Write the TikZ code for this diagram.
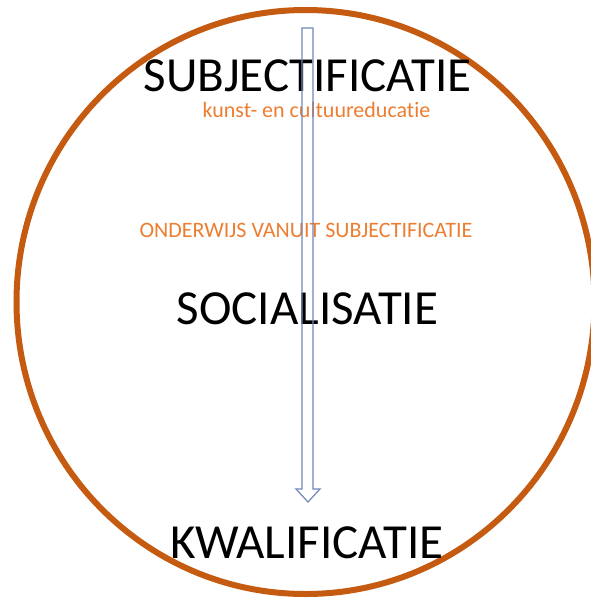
\documentclass[tikz,border=0pt]{standalone}
\usepackage{fontspec}
\setmainfont{Carlito}[Ligatures=NoCommon]
\usetikzlibrary{positioning}
\definecolor{ringorange}{RGB}{197,90,17}
\definecolor{textorange}{RGB}{237,125,49}
\definecolor{arrowblue}{RGB}{110,135,185}

\begin{document}
\begin{tikzpicture}[x=1pt, y=-1pt,
    bigword/.style={font=\fontsize{49}{49}\selectfont, text=black, inner sep=0pt, anchor=base, text depth=0pt},
    smallword/.style={font=\fontsize{22}{22}\selectfont, text=textorange, inner sep=0pt, anchor=base, text height=14pt}]

    \useasboundingbox (0,0) rectangle (591,598);
    \clip (0,0) rectangle (591,598);

    \draw[ringorange, line width=6pt] (305.5,302) ellipse [x radius=289, y radius=292];

    \node[bigword] (subj) at (307.5,91.5) {SUBJECTIFICATIE};
    \node[smallword] (kunst) at (316.5,117) {kunst- en cultuureducatie};
    \node[smallword] (onderwijs) at (306,237) {ONDERWIJS VANUIT SUBJECTIFICATIE};
    \node[bigword] (social) at (307.5,324) {SOCIALISATIE};
    \node[bigword] (kwal) at (307,558) {KWALIFICATIE};

    % hollow block arrow
    \draw[arrowblue, line width=1.2pt, line join=miter]
        (302,28) -- (313,28) -- (313,489) -- (320,489) -- (308,502)
        -- (296,489) -- (302,489) -- cycle;

\end{tikzpicture}
\end{document}
